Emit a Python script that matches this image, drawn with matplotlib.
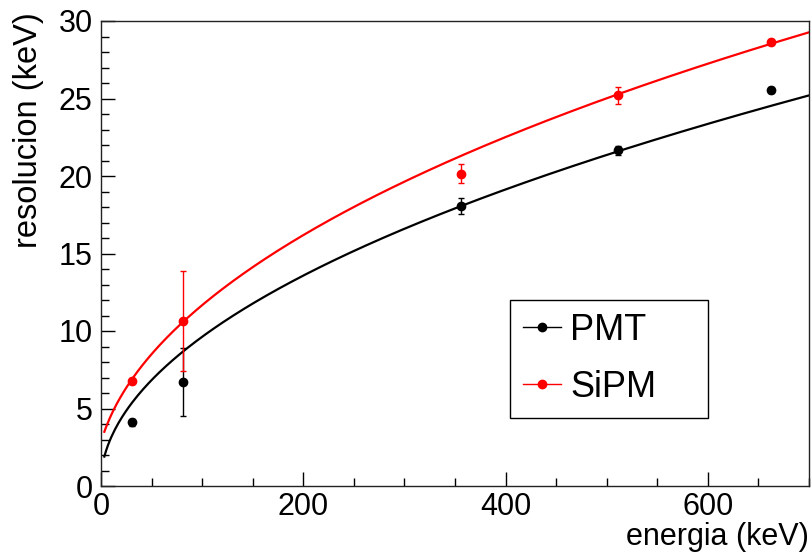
import numpy as np
import matplotlib
matplotlib.use("Agg")
import matplotlib.pyplot as plt
from matplotlib.lines import Line2D
from matplotlib.ticker import MultipleLocator

plt.rcParams['font.family'] = ['Liberation Sans', 'DejaVu Sans']

# data (energy in keV, resolution in keV)
energy = [31, 81, 356, 511, 662]
pmt_res = [4.1, 6.7, 18.05, 21.65, 25.55]
pmt_err = [0.2, 2.2, 0.5, 0.3, 0.2]
sipm_res = [6.8, 10.65, 20.15, 25.2, 28.62]
sipm_err = [0.2, 3.2, 0.63, 0.53, 0.2]

# fit parameters: sigma(E) = sqrt(p0 + p1*E + p2*E^2)
pmt_fit = [0.56, 0.9235, -2.45e-5]
sipm_fit = [7.98, 1.293, -1.15e-4]
fit_range = [3.3, 700]

labels = ["PMT", "SiPM"]
colors = ["black", "#ff0000"]

fig = plt.figure(figsize=(8.12, 5.55), dpi=100)
W, H = 812, 555
ax = fig.add_axes([101 / W, 1 - 486 / H, (809 - 101) / W, (486 - 21) / H])

E = np.linspace(fit_range[0], fit_range[1], 400)
for p, c in [(pmt_fit, colors[0]), (sipm_fit, colors[1])]:
    ax.plot(E, np.sqrt(p[0] + p[1] * E + p[2] * E ** 2), color=c, lw=1.6, zorder=2)

for res, err, c in [(pmt_res, pmt_err, colors[0]), (sipm_res, sipm_err, colors[1])]:
    ax.errorbar(energy, res, yerr=err, fmt='o', color=c, ms=6, elinewidth=1.0,
                capsize=2.5, capthick=1.0, zorder=3)

ax.set_xlim(0, 700)
ax.set_ylim(0, 30)
ax.xaxis.set_major_locator(MultipleLocator(200))
ax.xaxis.set_minor_locator(MultipleLocator(50))
ax.yaxis.set_major_locator(MultipleLocator(5))
ax.yaxis.set_minor_locator(MultipleLocator(1))
ax.tick_params(which='both', direction='in', top=False, right=False, labelsize=22, width=1)
ax.tick_params(which='major', length=10)
ax.tick_params(which='minor', length=5.5)
ax.tick_params(axis='x', pad=4)
ax.tick_params(axis='y', pad=6)
for s in ax.spines.values():
    s.set_linewidth(1.0)
    s.set_color('#222222')

fig.text(809 / W, 1 - 545 / H, "energia (keV)", ha='right', va='baseline', fontsize=22)
fig.text(29 / W, 1 - 12 / H, "resolucion (keV)", ha='center', va='top', rotation=90, fontsize=23.5)

handles = [Line2D([], [], color=c, marker='o', ms=6, lw=1.0) for c in colors]
leg = ax.legend(handles, labels, loc='upper left', mode='expand',
                bbox_to_anchor=(510 / W, 1 - 418 / H, 198 / W, 118 / H),
                bbox_transform=fig.transFigure,
                fontsize=26, frameon=True, fancybox=False, framealpha=1,
                edgecolor='black', handlelength=1.05, handletextpad=0.25,
                labelspacing=0.6, borderpad=0.36, borderaxespad=0)
leg.get_frame().set_linewidth(1.0)

fig.savefig("out.png", dpi=100)
